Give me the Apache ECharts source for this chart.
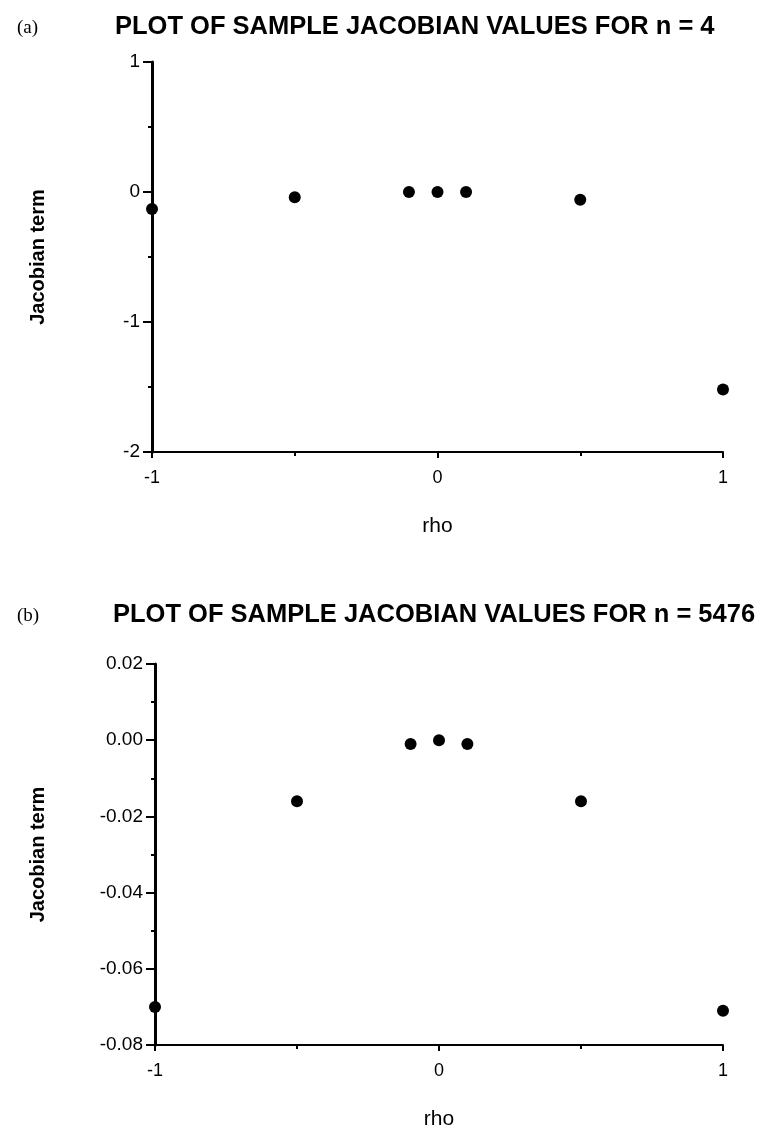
<!DOCTYPE html>
<html>
<head>
<meta charset="utf-8">
<script src="https://cdn.jsdelivr.net/npm/echarts@6/dist/echarts.min.js"></script>
<style>
  html, body { margin: 0; padding: 0; background: #fff; }
  #chart { width: 757px; height: 1136px; }
</style>
</head>
<body>
<div id="chart"></div>
<script>
// Sample Jacobian values at each rho, for two sample sizes.
const rhoValues = [-1, -0.5, -0.1, 0, 0.1, 0.5, 1];
const jacobianN4 = [-0.13, -0.04, 0, 0, 0, -0.06, -1.52];
const jacobianN5476 = [-0.07, -0.016, -0.001, 0, -0.001, -0.016, -0.071];

const titleA = 'PLOT OF SAMPLE JACOBIAN VALUES FOR n = 4';
const titleB = 'PLOT OF SAMPLE JACOBIAN VALUES FOR n = 5476';

const INK = '#000';
const FONT = 'Liberation Sans, Arial, sans-serif';

const pairs = (xs, ys) => xs.map((x, i) => [x, ys[i]]);

const X_AXIS = {
  type: 'value', min: -1, max: 1, interval: 1,
  name: 'rho', nameLocation: 'middle', nameGap: 64,
  nameTextStyle: { color: INK, fontFamily: FONT, fontSize: 21 },
  axisLine: { onZero: false, lineStyle: { color: INK, width: 2 } },
  axisTick: { length: 6, lineStyle: { color: INK, width: 2 } },
  minorTick: { show: true, splitNumber: 2, length: 4, lineStyle: { color: INK, width: 2 } },
  axisLabel: { color: INK, fontFamily: FONT, fontSize: 18, margin: 17 },
  splitLine: { show: false },
};

const Y_AXIS = {
  type: 'value', name: 'Jacobian term', nameLocation: 'middle', nameRotate: 90,
  nameTextStyle: { color: INK, fontFamily: FONT, fontSize: 20, fontWeight: 'bold' },
  axisLine: { show: true, onZero: false, lineStyle: { color: INK, width: 3 } },
  axisTick: { length: 9, lineStyle: { color: INK, width: 2 } },
  minorTick: { show: true, splitNumber: 2, length: 4, lineStyle: { color: INK, width: 2 } },
  axisLabel: { color: INK, fontFamily: FONT, fontSize: 19, margin: 12 },
  splitLine: { show: false },
};

const chart = echarts.init(document.getElementById('chart'), null, { renderer: 'canvas' });
chart.setOption({
  animation: false,
  backgroundColor: '#fff',
  title: [
    { text: '(a)', left: 12, top: 14, textStyle: { fontFamily: 'Liberation Serif', fontWeight: 'normal', fontSize: 19, color: INK } },
    { text: titleA, left: 110, top: 9, textStyle: { fontFamily: FONT, fontWeight: 'bold', fontSize: 25.5, color: INK } },
    { text: '(b)', left: 12, top: 602, textStyle: { fontFamily: 'Liberation Serif', fontWeight: 'normal', fontSize: 19, color: INK } },
    { text: titleB, left: 108, top: 597, textStyle: { fontFamily: FONT, fontWeight: 'bold', fontSize: 25.5, color: INK } },
  ],
  grid: [
    { left: 152, right: 34, top: 62, height: 390 },
    { left: 155, right: 34, top: 664, height: 381 },
  ],
  xAxis: [
    { ...X_AXIS, gridIndex: 0 },
    { ...X_AXIS, gridIndex: 1 },
  ],
  yAxis: [
    { ...Y_AXIS, gridIndex: 0, min: -2, max: 1, interval: 1, nameGap: 104 },
    { ...Y_AXIS, gridIndex: 1, min: -0.08, max: 0.02, interval: 0.02, nameGap: 107,
      axisLabel: { ...Y_AXIS.axisLabel, formatter: v => v.toFixed(2) } },
  ],
  series: [
    { type: 'scatter', xAxisIndex: 0, yAxisIndex: 0, data: pairs(rhoValues, jacobianN4),
      symbolSize: 12, itemStyle: { color: INK, opacity: 1 } },
    { type: 'scatter', xAxisIndex: 1, yAxisIndex: 1, data: pairs(rhoValues, jacobianN5476),
      symbolSize: 12, itemStyle: { color: INK, opacity: 1 } },
  ],
});
</script>
</body>
</html>
